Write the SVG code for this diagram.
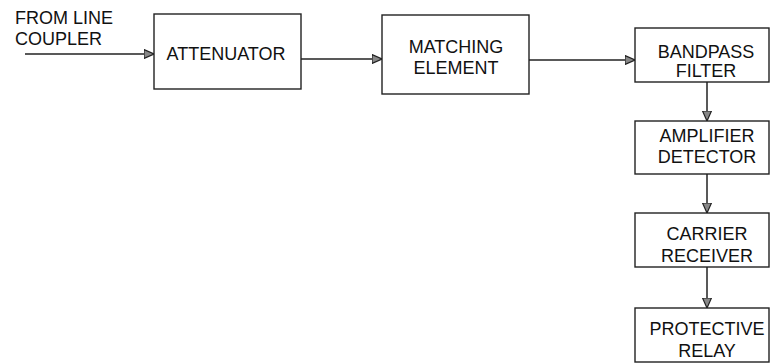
<svg xmlns="http://www.w3.org/2000/svg" width="771" height="364" viewBox="0 0 771 364">
<style>
.box{fill:#fff;stroke:#222;stroke-width:1.4}
.t{font-family:"Liberation Sans",Arial,sans-serif;font-size:18px;fill:#111;text-anchor:middle}
.l{font-family:"Liberation Sans",Arial,sans-serif;font-size:18px;fill:#111}
.c{stroke:#222;stroke-width:1.5;fill:none;marker-end:url(#ah)}
</style>
<defs>
<marker id="ah" viewBox="0 0 10 10" refX="10" refY="5" markerWidth="10" markerHeight="10" markerUnits="userSpaceOnUse" orient="auto">
<path d="M0,0.5 L10,5 L0,9.5 Z" fill="#888" stroke="#222" stroke-width="1.2"/>
</marker>
</defs>
<rect width="771" height="364" fill="#fff"/>
<g id="connectors">
<line class="c" x1="25" y1="54" x2="154" y2="54"/>
<line class="c" x1="301" y1="59" x2="382" y2="59"/>
<line class="c" x1="529" y1="60" x2="635" y2="60"/>
<line class="c" x1="707" y1="82" x2="707" y2="121"/>
<line class="c" x1="707" y1="174" x2="707" y2="213"/>
<line class="c" x1="707" y1="267" x2="707" y2="308"/>
</g>
<g id="input-label">
<text class="l" x="15" y="24">FROM LINE</text>
<text class="l" x="15" y="45">COUPLER</text>
</g>
<g id="attenuator">
<rect class="box" x="154" y="14" width="147" height="75"/>
<text class="t" x="226" y="60">ATTENUATOR</text>
</g>
<g id="matching">
<rect class="box" x="382" y="15" width="147" height="79"/>
<text class="t" x="456" y="53">MATCHING</text>
<text class="t" x="456" y="74">ELEMENT</text>
</g>
<g id="bandpass">
<rect class="box" x="635" y="28" width="134" height="54"/>
<text class="t" x="706" y="58">BANDPASS</text>
<text class="t" x="706" y="77">FILTER</text>
</g>
<g id="amplifier">
<rect class="box" x="635" y="121" width="134" height="53"/>
<text class="t" x="707" y="142">AMPLIFIER</text>
<text class="t" x="707" y="163">DETECTOR</text>
</g>
<g id="carrier">
<rect class="box" x="635" y="213" width="134" height="54"/>
<text class="t" x="707" y="240">CARRIER</text>
<text class="t" x="707" y="262">RECEIVER</text>
</g>
<g id="relay">
<rect class="box" x="635" y="308" width="134" height="54"/>
<text class="t" x="707" y="335">PROTECTIVE</text>
<text class="t" x="707" y="357">RELAY</text>
</g>
</svg>
